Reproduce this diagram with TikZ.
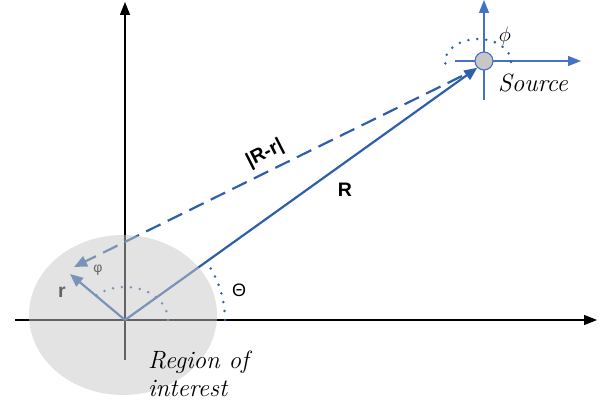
\documentclass[tikz,border=0pt]{standalone}
\usepackage{fontspec}
\setsansfont{Liberation Sans}
\usetikzlibrary{arrows.meta}
\definecolor{bl}{RGB}{46,95,170}
\definecolor{bl2}{RGB}{68,114,196}
\definecolor{regfill}{RGB}{199,199,199}
\begin{document}
\begin{tikzpicture}[x=1pt,y=1pt,
  axis/.style={line width=1.1pt,black,-{Triangle[length=13pt,width=10pt]}},
  saxis/.style={line width=1.1pt,bl2,-{Triangle[length=13pt,width=10pt]}},
  vec/.style={line width=2.2pt,bl,-{Triangle[length=13pt,width=11pt]}},
  dots/.style={line width=2.8pt,bl,line cap=round,dash pattern=on 0pt off 9pt},
  lbl/.style={font=\sffamily\bfseries\fontsize{19.5}{22}\selectfont,inner sep=0pt},
  ital/.style={font=\itshape\fontsize{25}{28}\selectfont,inner sep=0pt}]
\useasboundingbox (0,-411) rectangle (608,0);
\coordinate (O) at (125,-320);
\coordinate (xl) at (15,-320);
\coordinate (xr) at (597,-320);
\coordinate (yb) at (125,-360);
\coordinate (yt) at (125,-2);
\coordinate (rt) at (70,-274);
\coordinate (dA) at (462,-76);
\coordinate (dB) at (74,-267);
\coordinate (sxl) at (455,-61);
\coordinate (sxr) at (581,-61);
\coordinate (syb) at (484,-100);
\coordinate (syt) at (484,0);
% axes
\draw[axis] (xl) -- (xr);
\draw[axis] (yb) -- (yt);
\draw[saxis] (sxl) -- (sxr);
\draw[saxis] (syb) -- (syt);
% source
\node[circle,draw=bl2,line width=1.1pt,fill=regfill,minimum size=18pt,inner sep=0pt] (S) at (484,-61) {};
% vectors
\draw[vec] (O) -- (S.south west);
\draw[vec] (O) -- (rt);
\draw[vec,dash pattern=on 16pt off 8pt] (dA) -- (dB);
% dotted arcs
\draw[dots] (225,-320) arc[start angle=0,end angle=36,radius=100];
\draw[dots] (168,-320) arc[start angle=0,end angle=140,x radius=43,y radius=33];
\draw[dots] (511,-62) arc[start angle=0,end angle=205,x radius=33,y radius=23];
% labels
\node[lbl] (lR) at (345,-190) {R};
\node[lbl,rotate=27] (lRr) at (265,-154) {|R-r|};
\node[lbl] (lr) at (62,-292) {r};
\node[inner sep=0pt,font=\sffamily\fontsize{14}{16}\selectfont] (lphi) at (98,-270) {φ};
\node[inner sep=0pt,font=\sffamily\fontsize{18}{20}\selectfont] (lTh) at (239,-290) {Θ};
\node[inner sep=0pt,font=\fontsize{20}{22}\selectfont] (lph) at (505,-36) {$\phi$};
% region
\fill[regfill,fill opacity=0.5] (123,-315) ellipse[x radius=94,y radius=80];
\node[ital] (src) at (533,-83) {Source};
\node[ital,anchor=north west,align=left] (reg) at (148,-351) {Region of\\interest};
\end{tikzpicture}
\end{document}
